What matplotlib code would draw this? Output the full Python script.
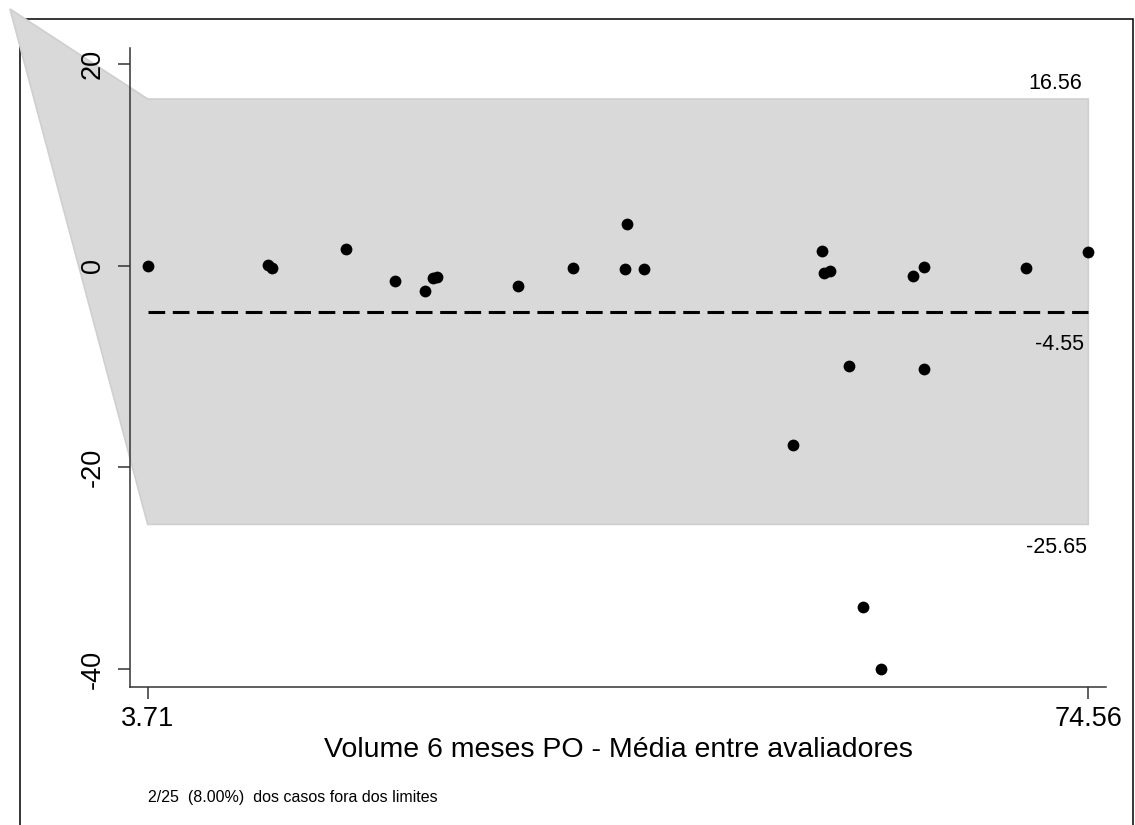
import matplotlib
matplotlib.use('Agg')
import matplotlib.pyplot as plt
from matplotlib.patches import Rectangle, Polygon

# ---- data ----
mean_x = [3.71, 12.80, 13.06, 18.63, 22.37, 24.58, 25.18, 25.53, 31.63, 35.73,
          39.80, 39.65, 41.10, 54.51, 54.66, 55.11, 61.34, 62.17, 69.89, 74.56,
          56.53, 62.17, 52.29, 57.61, 58.92]
diff_y = [0.00, 0.10, -0.23, 1.69, -1.52, -2.48, -1.22, -1.12, -1.96, -0.20,
          4.17, -0.30, -0.33, 1.52, -0.72, -0.53, -0.99, -0.13, -0.20, 1.36,
          -9.93, -10.25, -17.74, -33.87, -40.00]
upper_loa = 16.56
mean_diff = -4.55
lower_loa = -25.65
x_min, x_max = 3.71, 74.56
x_ticklabels = ['3.71', '74.56']
y_ticks = [-40, -20, 0, 20]
y_ticklabels = ['-40', '-20', '0', '20']
x_title = 'Volume 6 meses PO - Média entre avaliadores'
footer = '2/25  (8.00%)  dos casos fora dos limites'

plt.rcParams['font.family'] = ['Liberation Sans', 'DejaVu Sans']
plt.rcParams['lines.scale_dashes'] = False

W, H = 1135, 825
fig = plt.figure(figsize=(W / 100, H / 100), dpi=100)
fig.patch.set_facecolor('white')

ax = fig.add_axes([130 / W, 1 - 687 / H, (1106 - 130) / W, (687 - 47.7) / H])
ax.set_xlim(2.377, 75.893)
ax.set_ylim(-41.78, 21.65)
ax.patch.set_visible(False)

# outer frame of the graph region
border = Rectangle((20 / W, -0.02), (1133 - 20) / W, 1 - 19 / H + 0.02,
                   transform=fig.transFigure, fill=False, ec='black', lw=1.1, zorder=-5)
fig.add_artist(border)

# limits-of-agreement band (with the odd apex that sticks out top-left)
apex_disp = fig.transFigure.transform((10 / W, 1 - 9 / H))
apex = ax.transData.inverted().transform(apex_disp)
band = Polygon([tuple(apex), (x_min, upper_loa), (x_max, upper_loa),
                (x_max, lower_loa), (x_min, lower_loa)],
               closed=True, facecolor='#d9d9d9', edgecolor='#cfcfcf', lw=1.2,
               clip_on=False, zorder=1)
ax.add_patch(band)

# mean difference line
ax.plot([x_min, x_max], [mean_diff, mean_diff], color='black', lw=2.2,
        dashes=(12, 5.5), zorder=2)

# points
ax.scatter(mean_x, diff_y, s=72, c='black', linewidths=0, zorder=3)

# labels of the reference lines
ax.annotate(f'{upper_loa:.2f}', (x_max, upper_loa), xytext=(-4.3, 7.2),
            textcoords='offset points', ha='right', va='baseline', fontsize=15.5)
ax.annotate(f'{mean_diff:.2f}', (x_max, mean_diff), xytext=(-3, -27.4),
            textcoords='offset points', ha='right', va='baseline', fontsize=15.5)
ax.annotate(f'{lower_loa:.2f}', (x_max, lower_loa), xytext=(-1, -20.9),
            textcoords='offset points', ha='right', va='baseline', fontsize=15.5)

# axes styling
for s in ['top', 'right']:
    ax.spines[s].set_visible(False)
for s in ['left', 'bottom']:
    ax.spines[s].set_linewidth(1.1)
    ax.spines[s].set_color('#333333')
    ax.spines[s].set_zorder(4)

ax.set_xticks([x_min, x_max])
ax.set_xticklabels(x_ticklabels)
ax.set_yticks(y_ticks)
ax.set_yticklabels(y_ticklabels, rotation=90, va='center')
ax.tick_params(axis='both', length=8.6, width=1.1, color='#333333', labelsize=19.5)
ax.tick_params(axis='x', pad=5)
ax.tick_params(axis='y', pad=9)

ax.set_xlabel(x_title, fontsize=20.5, labelpad=4)

fig.text(148 / W, 1 - 802 / H, footer, fontsize=11.5, ha='left', va='baseline')

fig.savefig('out.png', dpi=100)
